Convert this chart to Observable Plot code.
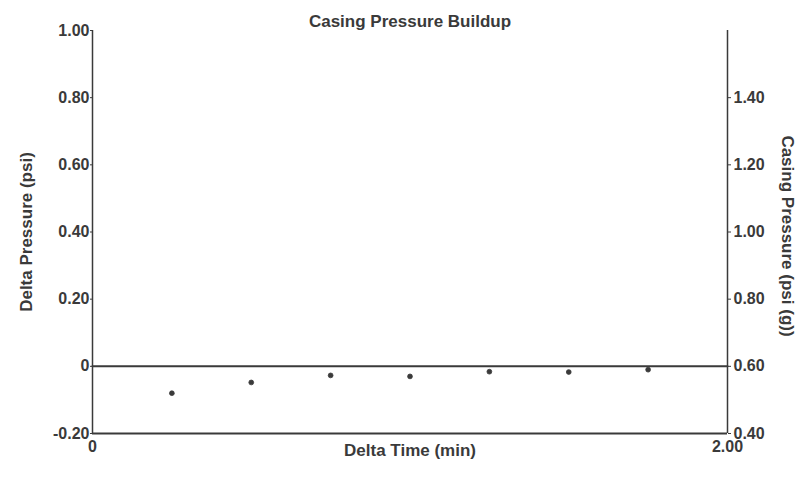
<!DOCTYPE html>
<html><head><meta charset="utf-8">
<script src="https://cdn.jsdelivr.net/npm/d3@7"></script>
<script src="https://cdn.jsdelivr.net/npm/@observablehq/plot@0.6"></script>
<style>
body{margin:0;background:#fff}
svg{font-family:"Liberation Sans",Arial,sans-serif;font-weight:bold}
</style>
</head><body><div id="chart"></div>
<script>
const title = "Casing Pressure Buildup";
const xLabel = "Delta Time (min)";
const leftLabel = "Delta Pressure (psi)";
const rightLabel = "Casing Pressure (psi (g))";
const deltaTime = [0.25, 0.5, 0.75, 1.0, 1.25, 1.5, 1.75];
const deltaPressure = [-0.08, -0.048, -0.027, -0.03, -0.016, -0.017, -0.01];
const casingTime = [0, 2];
const casingPressure = [0.60, 0.60];
const xTicks = [0, 2];
const leftTicks = [-0.2, 0, 0.2, 0.4, 0.6, 0.8, 1.0];
const rightTicks = [0.4, 0.6, 0.8, 1.0, 1.2, 1.4];
const xDomain = [0, 2];
const leftDomain = [-0.2, 1.0];
const rightDomain = [0.4, 1.6];

const toLeft = d3.scaleLinear().domain(rightDomain).range(leftDomain);
const fmt = d => Math.abs(d) < 1e-9 ? "0" : d.toFixed(2);
const points = deltaTime.map((t, i) => ({t, p: deltaPressure[i]}));
const casing = casingTime.map((t, i) => ({t, p: toLeft(casingPressure[i])}));
const ink = "#3a3a3a";
const font = '"Liberation Sans", Arial, sans-serif';

const chart = Plot.plot({
  width: 802, height: 490,
  marginLeft: 92, marginRight: 75, marginTop: 30, marginBottom: 57,
  style: {color: ink, fontSize: "16px", fontWeight: "bold", fontFamily: font},
  x: {domain: xDomain},
  y: {domain: leftDomain},
  marks: [
    Plot.ruleX(xDomain, {stroke: ink, strokeWidth: 1.5}),
    Plot.ruleY([leftDomain[0]], {stroke: ink, strokeWidth: 2}),
    Plot.line(casing, {x: "t", y: "p", stroke: ink, strokeWidth: 2}),
    Plot.dot(points, {x: "t", y: "p", r: 2.4, fill: ink, stroke: ink, strokeWidth: 0.8}),
    Plot.axisY({anchor: "left", ticks: leftTicks, tickFormat: fmt, tickSize: 2, tickPadding: 1,
      label: null, fontSize: 16}),
    Plot.axisY({anchor: "right", ticks: rightTicks.map(toLeft), tickFormat: d => fmt(toLeft.invert(d)),
      tickSize: 3, tickPadding: 3, label: null, fontSize: 16}),
    Plot.axisX({ticks: xTicks, tickFormat: fmt, tickSize: 0, tickPadding: 7, label: null, fontSize: 16}),
    Plot.text([title], {frameAnchor: "top", dy: -16, fontSize: 17, fontWeight: "bold", fill: ink}),
    Plot.text([leftLabel], {frameAnchor: "left", dx: -66, rotate: -90, textAnchor: "middle", fontSize: 17, fontWeight: "bold", fill: ink}),
    Plot.text([rightLabel], {frameAnchor: "right", dx: 60, dy: 4, rotate: 90, textAnchor: "middle", fontSize: 17, fontWeight: "bold", fill: ink}),
    Plot.text([xLabel], {frameAnchor: "bottom", dy: 22, fontSize: 17, fontWeight: "bold", fill: ink})
  ]
});
document.getElementById("chart").append(chart);
</script>
</body></html>
